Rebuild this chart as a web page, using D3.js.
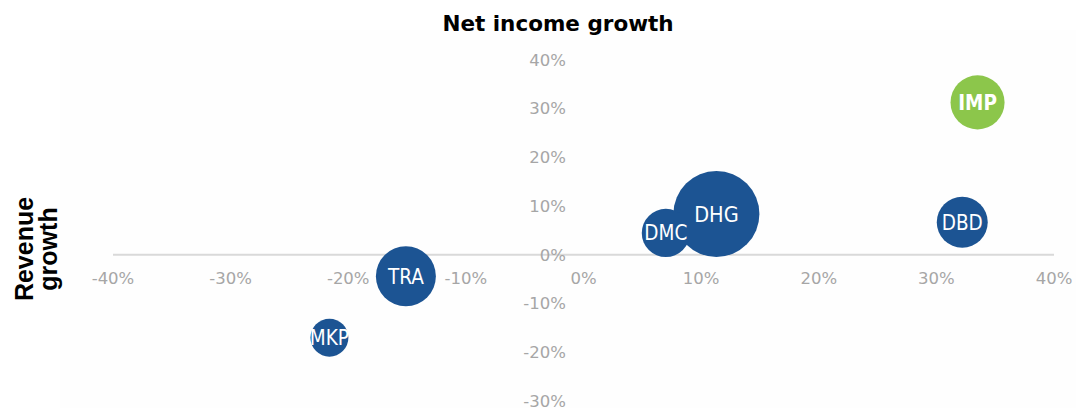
<!DOCTYPE html>
<html>
<head>
<meta charset="utf-8">
<script src="https://cdn.jsdelivr.net/npm/d3@7"></script>
<style>
  body { margin: 0; background: #fff; }
  svg { display: block; }
  .tick-label { fill: #a6a6a6; font-family: "DejaVu Sans", sans-serif; font-size: 16.5px; }
  .title { font-family: "DejaVu Sans", sans-serif; font-weight: bold; font-size: 21.5px; }
  .y-title { font-family: "Liberation Sans", Arial, sans-serif; font-weight: bold; font-size: 25px; }
  .bubble-label { fill: #fff; font-family: "DejaVu Sans Condensed", "DejaVu Sans", sans-serif; font-stretch: condensed; }
</style>
</head>
<body>
<script>
// companies: net income growth (x), revenue growth (y), bubble size
var companies = ['IMP', 'DBD', 'DHG', 'DMC', 'TRA', 'MKP'];
var netIncomeGrowth = [0.335, 0.322, 0.113, 0.070, -0.151, -0.216];
var revenueGrowth = [0.313, 0.067, 0.084, 0.045, -0.044, -0.170];
var bubbleSize = [7.3, 6.5, 18.5, 5.8, 9.0, 3.6];
var highlight = ['IMP'];

var xTicks = [-0.4, -0.3, -0.2, -0.1, 0, 0.1, 0.2, 0.3, 0.4];
var yTicks = [-0.3, -0.2, -0.1, 0, 0.1, 0.2, 0.3, 0.4];

var width = 1076;
var height = 408;

var data = companies.map(function (c, i) {
  return { name: c, x: netIncomeGrowth[i], y: revenueGrowth[i], size: bubbleSize[i] };
});

var svg = d3.select('body').append('svg')
  .attr('width', width)
  .attr('height', height);

// x and y scales
var x = d3.scaleLinear().domain([-0.4, 0.4]).range([113, 1054]);
var y = d3.scaleLinear().domain([-0.3, 0.4]).range([401, 60]);
var r = d3.scaleSqrt().domain([0, 18.5]).range([0, 43]);
var pct = function (d) { return d3.format('.0%')(d).replace('\u2212', '-'); };

// faint plot area
svg.append('rect')
  .attr('x', 60)
  .attr('y', 30)
  .attr('width', width - 60)
  .attr('height', height - 30)
  .attr('fill', '#fefefe');

svg.append('text')
  .attr('class', 'title')
  .attr('x', 558)
  .attr('y', 31)
  .attr('text-anchor', 'middle')
  .text('Net income growth');

// rotated y title, two lines
var yTitle = svg.append('text')
  .attr('class', 'y-title')
  .attr('transform', 'translate(0,249) rotate(-90)')
  .attr('text-anchor', 'middle');
yTitle.append('tspan').attr('x', 0).attr('y', 33).text('Revenue');
yTitle.append('tspan').attr('x', 0).attr('y', 57).text('growth');

// horizontal axis line at zero
svg.append('line')
  .attr('x1', x(-0.4))
  .attr('x2', x(0.4))
  .attr('y1', y(0))
  .attr('y2', y(0))
  .attr('stroke', '#d9d9d9')
  .attr('stroke-width', 2);

// y tick labels
svg.selectAll('.y-tick')
  .data(yTicks)
  .enter()
  .append('text')
    .attr('class', 'tick-label y-tick')
    .attr('x', 566)
    .attr('y', function (d) { return y(d); })
    .attr('dy', '0.35em')
    .attr('text-anchor', 'end')
    .text(function (d) { return pct(d); });

// x tick labels
svg.selectAll('.x-tick')
  .data(xTicks)
  .enter()
  .append('text')
    .attr('class', 'tick-label x-tick')
    .attr('x', function (d) { return x(d); })
    .attr('y', y(0) + 23)
    .attr('dy', '0.35em')
    .attr('text-anchor', 'middle')
    .text(function (d) { return pct(d); });

// bubbles
svg.selectAll('.bubble')
  .data(data)
  .enter()
  .append('circle')
    .attr('class', 'bubble')
    .attr('cx', function (d) { return x(d.x); })
    .attr('cy', function (d) { return y(d.y); })
    .attr('r', function (d) { return r(d.size); })
    .attr('fill', function (d) { return highlight.indexOf(d.name) >= 0 ? '#8cc64b' : '#1c5493'; });

svg.selectAll('.bubble-label')
  .data(data)
  .enter()
  .append('text')
    .attr('class', 'bubble-label')
    .attr('x', function (d) { return x(d.x); })
    .attr('y', function (d) { return y(d.y); })
    .attr('dy', '0.36em')
    .attr('text-anchor', 'middle')
    .attr('font-size', function (d) { return d.name === 'DHG' ? 21.5 : 20.5; })
    .attr('font-weight', function (d) { return highlight.indexOf(d.name) >= 0 ? 'bold' : 'normal'; })
    .text(function (d) { return d.name; });
</script>
</body>
</html>
